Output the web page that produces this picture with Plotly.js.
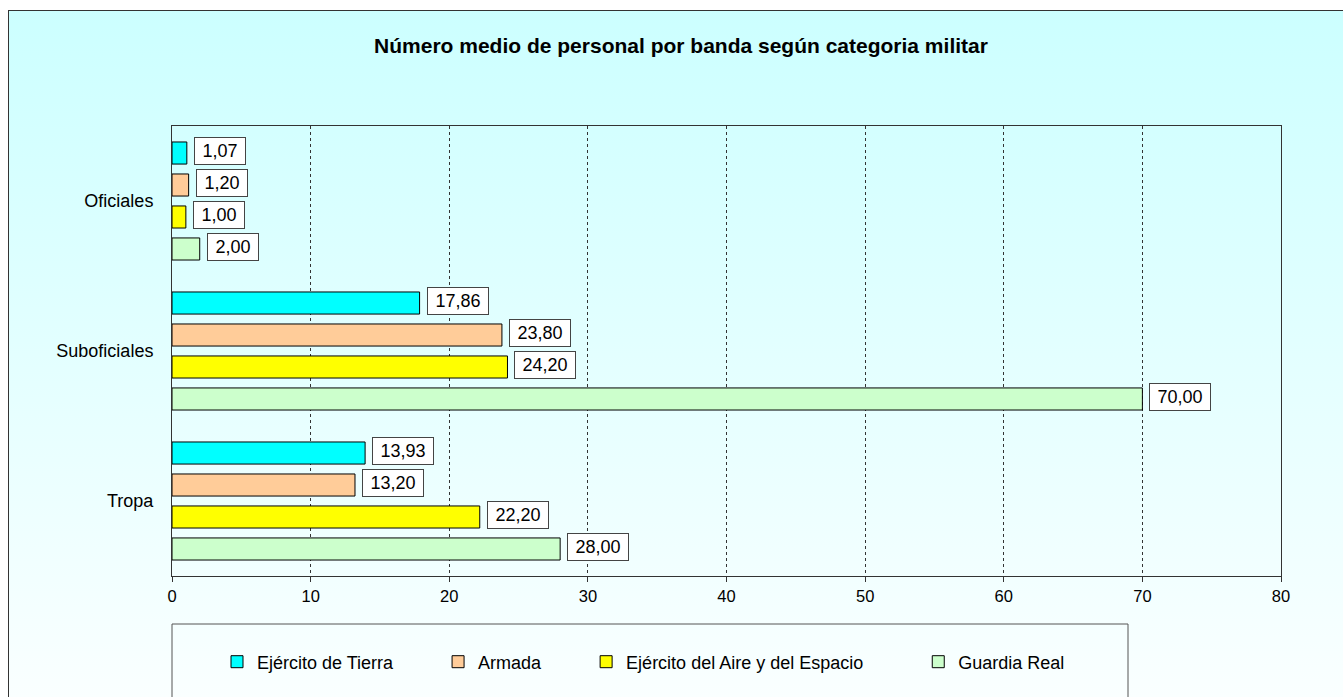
<!DOCTYPE html>
<html>
<head>
<meta charset="utf-8">
<script src="https://cdn.plot.ly/plotly-3.0.1.min.js"></script>
<style>
  html, body { margin: 0; padding: 0; width: 1343px; height: 697px; overflow: hidden; background: #ffffff; }
  #frame { position: absolute; left: 8px; top: 10px; width: 1360px; height: 720px;
           border: 1px solid #333; box-sizing: border-box;
           background: linear-gradient(to bottom, #CCFFFF 0px, #FAFFFF 687px); }
  #chart { position: absolute; left: 0; top: 0; width: 1343px; height: 697px; }
</style>
</head>
<body>
<div id="frame"></div>
<div id="chart"></div>
<script>
const categories = ['Oficiales', 'Suboficiales', 'Tropa'];
const seriesNames = ['Ejército de Tierra', 'Armada', 'Ejército del Aire y del Espacio', 'Guardia Real'];
const tierra = [1.07, 17.86, 13.93];
const armada = [1.20, 23.80, 13.20];
const aire = [1.00, 24.20, 22.20];
const guardia = [2.00, 70.00, 28.00];
const xTicks = [0, 10, 20, 30, 40, 50, 60, 70, 80];

const seriesValues = [tierra, armada, aire, guardia];
const colors = ['#00FFFF', '#FFCC99', '#FFFF00', '#CCFFCC'];
const legendPads = [8, 8, 10, 0];

const W = 1343, H = 697;
const margin = { l: 172, r: 62, t: 126, b: 121 };
const plotW = W - margin.l - margin.r;
const plotH = H - margin.t - margin.b;
const bargap = 0.147;
const slot = (plotH / categories.length) * (1 - bargap) / seriesValues.length;
const FONT = 'Liberation Sans, Arial, sans-serif';

const fmt = v => v.toFixed(2).replace('.', ',');

const traces = seriesValues.map((vals, i) => ({
  type: 'bar',
  orientation: 'h',
  name: seriesNames[i] + '\u00a0'.repeat(legendPads[i]),
  y: categories,
  x: vals,
  marker: { color: colors[i], line: { color: '#000000', width: 1 } },
  hoverinfo: 'none'
}));

const annotations = [];
seriesValues.forEach((vals, i) => {
  vals.forEach((v, j) => {
    annotations.push({
      x: v, y: categories[j], xref: 'x', yref: 'y',
      text: '\u2005' + fmt(v) + '\u2005',
      showarrow: false,
      xanchor: 'left', yanchor: 'middle',
      xshift: 7,
      yshift: (1.5 - i) * slot + 2,
      height: 20,
      font: { family: FONT, size: 18, color: '#000' },
      bgcolor: '#FFFFFF', bordercolor: '#444444', borderwidth: 1, borderpad: 3
    });
  });
});

const toPX = px => (px - margin.l) / plotW;
const toPY = py => (H - margin.b - py) / plotH;

const layout = {
  width: W, height: H,
  margin: margin,
  paper_bgcolor: 'rgba(0,0,0,0)',
  plot_bgcolor: 'rgba(0,0,0,0)',
  font: { family: FONT, size: 16, color: '#000' },
  title: {
    text: '<b>Número medio de personal por banda según categoria militar</b>',
    font: { family: FONT, size: 21, color: '#000' },
    xref: 'container', yref: 'container',
    x: 681 / W, y: 1 - 46 / H, xanchor: 'center', yanchor: 'middle'
  },
  barmode: 'group',
  bargap: bargap,
  bargroupgap: 0.31,
  xaxis: {
    range: [0, 80], tickvals: xTicks, ticktext: xTicks.map(String),
    showgrid: true, gridcolor: '#333333', griddash: 'dot', gridwidth: 1,
    zeroline: false,
    showline: true, linecolor: '#333333', linewidth: 1, mirror: true,
    ticks: 'outside', ticklen: 5, tickcolor: '#333333',
    tickfont: { size: 16.5 }
  },
  yaxis: {
    type: 'category', autorange: 'reversed',
    showgrid: false, zeroline: false,
    showline: true, linecolor: '#333333', linewidth: 1, mirror: true,
    ticks: '', ticklabelstandoff: 14,
    tickfont: { size: 18 }
  },
  showlegend: true,
  legend: {
    orientation: 'h',
    x: toPX(217), y: toPY(662), xanchor: 'left', yanchor: 'middle',
    xref: 'paper', yref: 'paper',
    bgcolor: 'rgba(0,0,0,0)', borderwidth: 0,
    font: { size: 18 },
    traceorder: 'normal'
  },
  shapes: [{
    type: 'rect', xref: 'paper', yref: 'paper',
    x0: toPX(172), x1: toPX(1128), y0: toPY(624), y1: toPY(720),
    line: { color: '#555555', width: 1 }, fillcolor: 'rgba(0,0,0,0)'
  }],
  annotations: annotations,
  hovermode: false
};

Plotly.newPlot('chart', traces, layout, { displayModeBar: false, staticPlot: true });
</script>
</body>
</html>
